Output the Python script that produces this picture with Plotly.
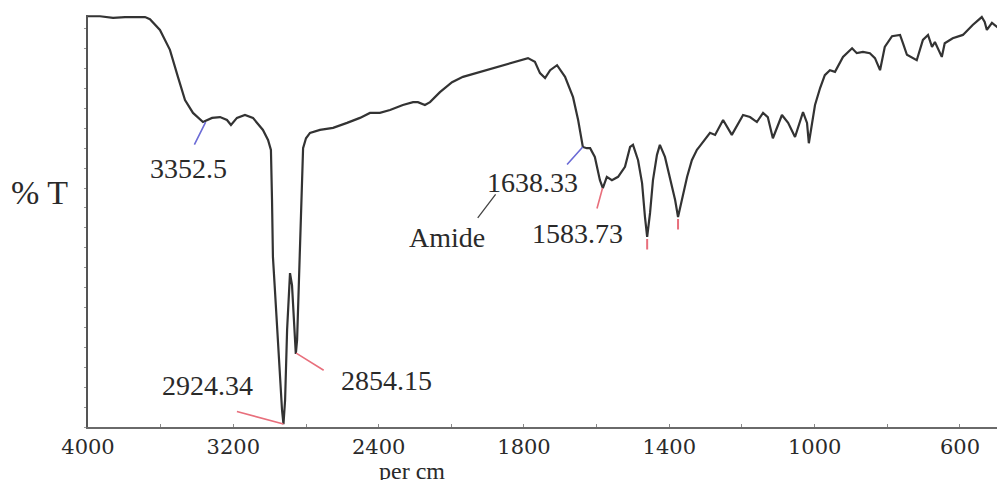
import numpy as np
import plotly.graph_objects as go

# ---------------- data ----------------
wavenumber = [4000, 3934, 3862, 3796, 3686, 3659, 3604, 3549, 3505, 3466, 3422, 3367, 3317, 3273,
              3235, 3213, 3180, 3136, 3092, 3037, 3009, 2993, 2987, 2982, 2971, 2960, 2943, 2932,
              2924, 2915, 2904, 2893, 2888, 2877, 2866, 2856, 2849, 2838, 2827, 2816, 2800, 2778,
              2723, 2651, 2574, 2503, 2448, 2395, 2353, 2300, 2258, 2238, 2209, 2188, 2147, 2097,
              2052, 1982, 1911, 1845, 1789, 1770, 1756, 1742, 1728, 1709, 1687, 1665, 1651, 1638,
              1627, 1618, 1605, 1591, 1583, 1572, 1558, 1541, 1522, 1508, 1500, 1486, 1475, 1467,
              1461, 1453, 1445, 1434, 1426, 1412, 1398, 1384, 1376, 1365, 1351, 1338, 1324, 1316,
              1288, 1274, 1252, 1228, 1197, 1178, 1159, 1142, 1129, 1115, 1090, 1073, 1054, 1032,
              1021, 1016, 999, 985, 972, 958, 944, 922, 897, 884, 867, 848, 834, 820, 807, 787,
              765, 757, 746, 719, 702, 688, 677, 669, 650, 642, 620, 592, 565, 540, 532, 526,
              512, 495]
transmittance = [99.0, 99.0, 98.6, 98.8, 98.8, 98.3, 95.7, 90.9, 84.4, 78.8, 75.7, 73.5, 74.5, 74.7,
                 74.0, 72.8, 74.5, 75.2, 74.5, 71.6, 69.2, 66.8, 54.7, 41.0, 33.0, 24.1, 11.3, 4.1,
                 0.7, 6.5, 23.4, 34.2, 37.1, 34.2, 23.4, 17.6, 21.0, 35.4, 54.7, 67.2, 69.6, 70.9,
                 71.6, 72.1, 73.3, 74.5, 75.7, 75.7, 76.4, 77.6, 78.3, 78.3, 77.6, 78.3, 80.7, 83.1,
                 84.4, 85.6, 86.8, 88.0, 88.9, 88.0, 85.3, 84.1, 86.0, 87.2, 84.4, 79.5, 74.0, 67.5,
                 67.2, 67.2, 65.1, 59.5, 57.6, 60.3, 59.5, 60.3, 62.7, 67.5, 68.0, 64.3, 58.8, 50.6,
                 45.8, 51.6, 59.5, 65.6, 68.0, 65.1, 59.5, 54.7, 50.6, 54.7, 60.3, 64.3, 66.8, 67.7,
                 70.9, 70.4, 74.0, 70.4, 75.2, 74.7, 73.5, 75.7, 74.7, 69.6, 75.2, 73.3, 69.9, 75.9,
                 73.3, 68.4, 77.6, 81.7, 84.8, 86.0, 85.6, 89.2, 91.3, 90.1, 90.4, 90.1, 88.9, 86.0,
                 91.6, 94.2, 94.5, 92.5, 89.7, 88.4, 93.3, 94.5, 91.6, 92.8, 89.2, 92.5, 93.7, 94.5,
                 96.9, 98.8, 97.6, 95.7, 97.4, 96.2]

tick_wavenumbers = [4000, 3200, 2400, 1800, 1400, 1000, 600]

peak_labels = ["3352.5", "2924.34", "2854.15", "1638.33", "1583.73"]
peak_wavenumbers = [3352.5, 2924.34, 2854.15, 1638.33, 1583.73]
peak_transmittance = [73.5, 0.7, 17.8, 67.5, 57.6]

mark_wavenumbers = [1461, 1376]
mark_transmittance = [45.8, 50.6]


# ---------------- split-scale axis (instrument style) ----------------
def to_axis(wn):
    wn = np.asarray(wn, dtype=float)
    anchors = np.array(tick_wavenumbers, dtype=float)
    pos = np.arange(len(anchors), dtype=float)
    u = np.interp(-wn, -anchors, pos)
    slope = 1.0 / (anchors[-2] - anchors[-1])
    return np.where(wn < anchors[-1], pos[-1] + (anchors[-1] - wn) * slope, u)


x_axis = to_axis(wavenumber)
x_peaks = to_axis(peak_wavenumbers)
x_marks = to_axis(mark_wavenumbers)

BLUE = "#6b6bd6"
RED = "#e86f7c"
TXT = "#2a2a2a"
SERIF = "Liberation Serif, Times New Roman, serif"

fig = go.Figure()
fig.add_trace(go.Scatter(x=x_axis, y=transmittance, mode="lines",
                         line=dict(color="#333333", width=2.2), hoverinfo="skip"))

annotations = []
# leader lines from the peaks (ax, ay in pixels) and label offsets (xshift, yshift)
leader_style = [
    (BLUE, -12, 24, -17, -46),
    (RED, -48, -13, -76, 39),
    (RED, 29, 18, 90, -27),
    (BLUE, -17, 19, -50, -36),
    (RED, -6, 22, -25, -45),
]
for lab, xp, yp, (col, ax, ay, xs, ys) in zip(peak_labels, x_peaks, peak_transmittance, leader_style):
    annotations.append(dict(x=xp, y=yp, xref="x", yref="y", text="", showarrow=True,
                            arrowhead=0, arrowwidth=1.6, arrowcolor=col, ax=ax, ay=ay,
                            standoff=0, startstandoff=0))
    annotations.append(dict(x=xp, y=yp, xref="x", yref="y", text=lab, showarrow=False,
                            xshift=xs, yshift=ys, font=dict(family=SERIF, size=28, color=TXT)))

for xm, ym in zip(x_marks, mark_transmittance):
    annotations.append(dict(x=xm, y=ym, xref="x", yref="y", text="", showarrow=True,
                            arrowhead=0, arrowwidth=2, arrowcolor=RED, ax=0, ay=12,
                            standoff=0, yshift=-2))

# "Amide" label linked to the 1638.33 label
annotations.append(dict(x=x_peaks[3], y=peak_transmittance[3], xref="x", yref="y", text="",
                        showarrow=True, arrowhead=0, arrowwidth=1.3, arrowcolor="#444444",
                        ax=19, ay=-25, xshift=-105, yshift=-71, standoff=0))
annotations.append(dict(x=x_peaks[3], y=peak_transmittance[3], xref="x", yref="y", text="Amide",
                        showarrow=False, xshift=-136, yshift=-91,
                        font=dict(family=SERIF, size=28, color=TXT)))

# axis titles
annotations.append(dict(x=-0.053, y=0.568, xref="paper", yref="paper", text="% T",
                        xanchor="center", yanchor="middle",
                        showarrow=False, font=dict(family=SERIF, size=34, color=TXT)))
annotations.append(dict(x=0.356, y=-0.106, xref="paper", yref="paper", text="per cm",
                        xanchor="center", yanchor="middle",
                        showarrow=False, font=dict(family=SERIF, size=24, color=TXT)))

tickvals = [i * 0.5 for i in range(2 * len(tick_wavenumbers) - 1)]
ticktext = [str(tick_wavenumbers[i // 2]) if i % 2 == 0 else "" for i in range(len(tickvals))]

fig.update_layout(
    width=997, height=480, autosize=False,
    margin=dict(l=88, r=0, t=15, b=53),
    plot_bgcolor="white", paper_bgcolor="white",
    showlegend=False,
    annotations=annotations,
    xaxis=dict(range=[0, 909 / 145.33], tickmode="array", tickvals=tickvals, ticktext=ticktext,
               showgrid=False, zeroline=False, showline=True, linecolor="#6a6a6a", linewidth=2,
               ticks="inside", ticklen=3, tickwidth=1, tickcolor="#888888",
               tickfont=dict(family="DejaVu Serif", size=21, color="#2a2a2a")),
    yaxis=dict(range=[0, 99.3], tickmode="linear", tick0=0, dtick=4.8, showticklabels=False,
               showgrid=False, zeroline=False, showline=True, linecolor="#555555", linewidth=2,
               ticks="outside", ticklen=2, tickwidth=1, tickcolor="#999999"),
)

fig.write_html("out.html")
